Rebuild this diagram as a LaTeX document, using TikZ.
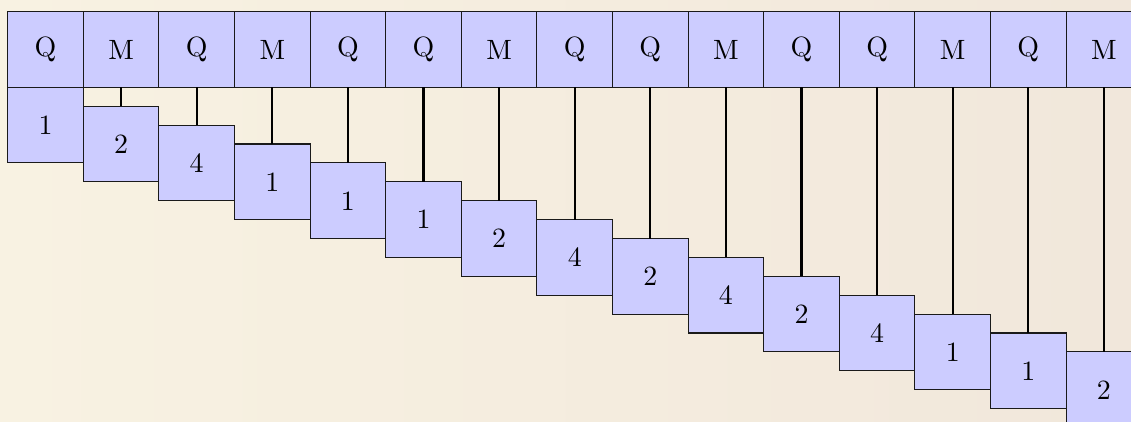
\documentclass[tikz,border=0pt]{standalone}
\usepackage{tikz}
\usetikzlibrary{positioning}
\definecolor{CellBlue}{HTML}{CCCCFF}
\definecolor{CellEdge}{HTML}{1A1A1A}
\definecolor{PaperLeft}{HTML}{F8F2E2}
\definecolor{PaperRight}{HTML}{F1E7DB}

\begin{document}
\begin{tikzpicture}[
  cell/.style={draw=CellEdge, fill=CellBlue, minimum size=1cm, inner sep=0pt, outer sep=0pt,
               font=\fontsize{10.5}{12}\selectfont},
  link/.style={draw=black, thick}
]
  % Paper and frame
  \fill[left color=PaperLeft, right color=PaperRight] (-0.102,1.155) rectangle (14.858,-4.414);
  \useasboundingbox (-0.102,1.155) rectangle (14.858,-4.414);
  \clip (-0.102,1.155) rectangle (14.858,-4.414);

  % Top row
  \foreach \op [count=\i from 0] in {Q,M,Q,M,Q,Q,M,Q,Q,M,Q,Q,M,Q,M}
    \node[cell] (op\i) at (\i+0.5, 0.5) {\op};

  % Staircase, a quarter cell lower each step
  \foreach \w [count=\i from 0] in {1,2,4,1,1,1,2,4,2,4,2,4,1,1,2}
    \node[cell] (w\i) at (\i+0.5, -0.25*\i-0.5) {\w};

  % Links
  \foreach \i in {1,...,14}
    \draw[link] (op\i.south) -- (w\i.north);
\end{tikzpicture}
\end{document}
